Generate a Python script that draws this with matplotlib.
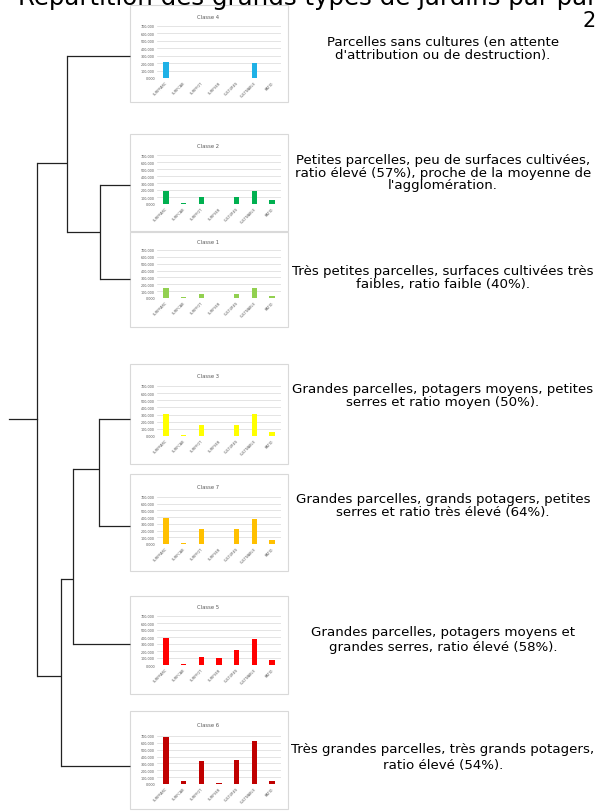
import matplotlib
matplotlib.use("Agg")
import matplotlib.pyplot as plt
from matplotlib.patches import Rectangle

W, H = 597, 812

# bar chart data (one small chart per class), y axis 0 - 700 000
variables = ["SURFPARC", "SURFCAB", "SURFPOT", "SURFSER", "CULTURES", "CULTIVABLE", "RATIO"]
ytick_labels = ["0,000", "100,000", "200,000", "300,000", "400,000", "500,000", "600,000", "700,000"]
ytick_values = [0, 100, 200, 300, 400, 500, 600, 700]

classe4 = [220, 0, 0, 0, 0, 205, 0]
classe2 = [190, 8, 105, 0, 105, 180, 52]
classe1 = [150, 15, 60, 0, 60, 143, 35]
classe3 = [313, 12, 156, 0, 156, 303, 57]
classe7 = [385, 10, 230, 0, 230, 370, 62]
classe5 = [380, 14, 114, 105, 214, 367, 67]
classe6 = [685, 49, 335, 15, 350, 630, 49]

class_names = ["Classe 4", "Classe 2", "Classe 1", "Classe 3", "Classe 7", "Classe 5", "Classe 6"]
class_values = [classe4, classe2, classe1, classe3, classe7, classe5, classe6]
class_colors = ["#1fb1e6", "#00b050", "#92d050", "#ffff00", "#ffc000", "#ff0000", "#c00000"]

descriptions = [
    "Parcelles sans cultures (en attente\nd'attribution ou de destruction).",
    "Petites parcelles, peu de surfaces cultivées,\nratio élevé (57%), proche de la moyenne de\nl'agglomération.",
    "Très petites parcelles, surfaces cultivées très\nfaibles, ratio faible (40%).",
    "Grandes parcelles, potagers moyens, petites\nserres et ratio moyen (50%).",
    "Grandes parcelles, grands potagers, petites\nserres et ratio très élevé (64%).",
    "Grandes parcelles, potagers moyens et\ngrandes serres, ratio élevé (58%).",
    "Très grandes parcelles, très grands potagers,\nratio élevé (54%).",
]

# dendrogram: merges (child a, child b, height), leaves are 0..6 in class order
merges = [
    (1, 2, 30),   # node 7
    (0, 7, 63),   # node 8
    (3, 4, 31),   # node 9
    (9, 5, 57),   # node 10
    (10, 6, 69),  # node 11
    (8, 11, 93),  # node 12 (root)
]
root_stub = 121

# layout (pixels): panel top / bottom, plot area top (700) / bottom (0)
panel_top = [6, 135, 233, 365, 475, 597, 712]
panel_bot = [103, 232, 328, 465, 572, 695, 810]
plot_top = [27, 156, 251, 387, 498, 617, 737]
plot_bot = [79, 205, 299, 437, 545, 666, 785]
leaf_y = [57, 186, 280, 420, 527, 645, 767]
node_y = {7: 233, 8: 164, 9: 470, 10: 580, 11: 677, 12: 420}
text_y = [49, 173, 278, 396, 506, 640, 758]
text_ls = [0.92, 0.92, 0.92, 0.92, 0.92, 1.2, 1.3]
leaf_x = 130

fig = plt.figure(figsize=(W / 100, H / 100), dpi=100)
ax = fig.add_axes([0, 0, 1, 1])
ax.set_xlim(0, W)
ax.set_ylim(H, 0)
ax.axis("off")

# dendrogram
pos = {i: (leaf_x, y) for i, y in enumerate(leaf_y)}
for k, (a, b, h) in enumerate(merges):
    node = len(leaf_y) + k
    xm = leaf_x - h
    ym = node_y[node]
    for c in (a, b):
        xc, yc = pos[c]
        ax.plot([xm, xc], [yc, yc], color="#222222", lw=0.9, solid_capstyle="butt")
    ax.plot([xm, xm], [pos[a][1], pos[b][1]], color="#222222", lw=0.9)
    pos[node] = (xm, ym)
xr, yr = pos[len(leaf_y) + len(merges) - 1]
ax.plot([leaf_x - root_stub, xr], [yr, yr], color="#222222", lw=0.9)

# panels
for i in range(len(class_names)):
    ax.add_patch(Rectangle((130, panel_top[i]), 158, panel_bot[i] - panel_top[i],
                           facecolor="white", edgecolor="#d9d9d9", lw=0.8, zorder=1))
    ax.text(208, (panel_top[i] + plot_top[i]) / 2 + 1, class_names[i], ha="center", va="center",
            fontsize=3.8, color="#595959", zorder=2)

    pa = fig.add_axes([157 / W, 1 - plot_bot[i] / H, 124 / W, (plot_bot[i] - plot_top[i]) / H])
    pa.patch.set_alpha(0)
    pa.bar(range(len(variables)), class_values[i], width=0.3, color=class_colors[i], zorder=3)
    pa.set_xlim(-0.5, len(variables) - 0.5)
    pa.set_ylim(0, 700)
    pa.set_yticks(ytick_values)
    pa.set_yticklabels(ytick_labels, fontsize=2.4, color="#595959")
    pa.set_xticks(range(len(variables)))
    pa.set_xticklabels(variables, rotation=45, ha="right", rotation_mode="anchor",
                       fontsize=2.5, color="#595959")
    pa.tick_params(length=0, pad=1.5)
    pa.grid(axis="y", color="#d9d9d9", lw=0.5, zorder=0)
    for s in pa.spines.values():
        s.set_visible(False)

    ax.text(443, text_y[i], descriptions[i], ha="center", va="center", fontsize=9.6,
            linespacing=text_ls[i], color="black")

# title (cut at the top of the picture, as in the source)
ax.text(18, 5, "Répartition des grands types de jardins par par", fontsize=17.6, va="baseline",
        ha="left", color="black")
ax.text(582, 27, "2", fontsize=15, va="baseline", ha="left", color="black")

fig.savefig("out.png", dpi=100)
